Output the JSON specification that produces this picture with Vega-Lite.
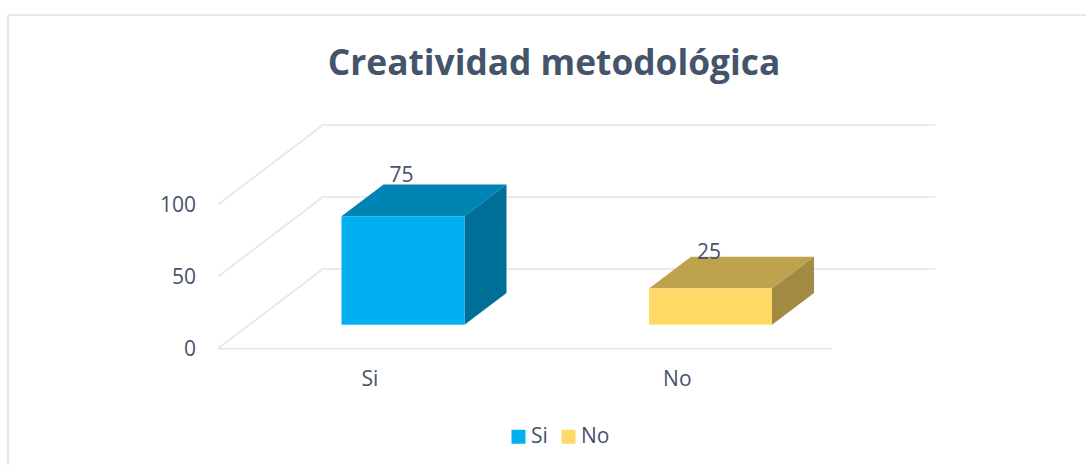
{
"$schema":"https://vega.github.io/schema/vega-lite/v6.json",
"width":1086,"height":465,"padding":0,"autosize":{"type":"none"},
"background":"white",
"title":{"text":"Creatividad metodológica","font":"Open Sans","fontSize":35.3,"fontWeight":"bold","color":"#44546A","anchor":"middle","dx":11,"dy":110,"baseline":"alphabetic","offset":0},
"config":{"view":{"stroke":null},"text":{"font":"Open Sans","fontSize":21,"color":"#44546A"}},
"datasets":{
"barras":[{"categoria":"Si","valor":75},{"categoria":"No","valor":25}],
"escala":[{"marca":0},{"marca":50},{"marca":100}]
},
"layer":[
{"mark":{"type":"rule","color":"#E3E7EE","strokeWidth":2},"data":{"values":[{}]},
 "encoding":{"x":{"datum":-0.2846,"type":"quantitative","scale":{"domain":[-0.3106,3.2211]},"axis":null},
 "y":{"datum":231.7,"type":"quantitative","scale":{"domain":[-80.76,242.15]},"axis":null},"y2":{"datum":-80.76}}},
{"mark":{"type":"rule","color":"#E3E7EE","strokeWidth":2},"data":{"values":[{}]},
 "encoding":{"x":{"datum":-0.2846,"type":"quantitative","scale":{"domain":[-0.3106,3.2211]},"axis":null},"x2":{"datum":3.2211},
 "y":{"datum":231.7,"type":"quantitative","scale":{"domain":[-80.76,242.15]},"axis":null}}},
{"mark":{"type":"line","color":"#E1E5EB","strokeWidth":1.6},"data":{"name":"escala"},
 "transform":[{"calculate":"[0.3984,0.7389,2.7323]","as":"px"},{"calculate":"[datum.marca,datum.marca+55.35,datum.marca+55.35]","as":"py"},{"flatten":["px","py"]}],
 "encoding":{"x":{"field":"px","type":"quantitative","scale":{"domain":[-0.3106,3.2211]},"axis":null},
 "y":{"field":"py","type":"quantitative","scale":{"domain":[-80.76,242.15]},"axis":null},
 "detail":{"field":"marca"}}},
{"mark":{"type":"rule","color":"#E1E5EB","strokeWidth":1.6},"data":{"values":[{}]},
 "encoding":{"x":{"datum":0.3984,"type":"quantitative","scale":{"domain":[-0.3106,3.2211]},"axis":null},"x2":{"datum":2.396},
 "y":{"datum":0,"type":"quantitative","scale":{"domain":[-80.76,242.15]},"axis":null}}},
{"mark":{"type":"text","align":"right","baseline":"middle"},"data":{"name":"escala"},
 "transform":[{"calculate":"0.3268","as":"px"},{"calculate":"datum.marca-0.7","as":"py"}],
 "encoding":{"x":{"field":"px","type":"quantitative","scale":{"domain":[-0.3106,3.2211]},"axis":null},
 "y":{"field":"py","type":"quantitative","scale":{"domain":[-80.76,242.15]},"axis":null},
 "text":{"field":"marca","type":"quantitative"}}},
{"data":{"name":"barras"},
 "transform":[
  {"calculate":"datum.categoria==='Si'?1:2","as":"pos"},
  {"calculate":"datum.pos-0.2","as":"izq"},{"calculate":"datum.pos+0.2","as":"der"},
  {"calculate":"16.67","as":"base"},{"calculate":"16.67+datum.valor*1.005","as":"tope"}],
 "layer":[
  {"mark":{"type":"area","interpolate":"linear"},
   "transform":[{"calculate":"[datum.izq,datum.izq+0.1366,datum.der,datum.der+0.1366]","as":"px"},
    {"calculate":"[datum.tope,datum.tope+22,datum.tope+22,datum.tope+22]","as":"py"},
    {"calculate":"[datum.tope,datum.tope,datum.tope,datum.tope+22]","as":"py2"},
    {"flatten":["px","py","py2"]}],
   "encoding":{"x":{"field":"px","type":"quantitative","scale":{"domain":[-0.3106,3.2211]},"axis":null},
    "y":{"field":"py","type":"quantitative","stack":null,"scale":{"domain":[-80.76,242.15]},"axis":null},"y2":{"field":"py2"},
    "color":{"field":"categoria","type":"nominal","legend":null,"scale":{"domain":["Si","No"],"range":["#0084B4","#BFA34C"]}},
    "detail":{"field":"categoria"}}},
  {"mark":{"type":"area","interpolate":"linear"},
   "transform":[{"calculate":"[datum.der,datum.der+0.1366]","as":"px"},
    {"calculate":"[datum.tope,datum.tope+22]","as":"py"},
    {"calculate":"[datum.base,datum.base+22]","as":"py2"},
    {"flatten":["px","py","py2"]}],
   "encoding":{"x":{"field":"px","type":"quantitative","scale":{"domain":[-0.3106,3.2211]},"axis":null},
    "y":{"field":"py","type":"quantitative","stack":null,"scale":{"domain":[-80.76,242.15]},"axis":null},"y2":{"field":"py2"},
    "color":{"field":"categoria","type":"nominal","legend":null,"scale":{"domain":["Si","No"],"range":["#006F97","#A38A42"]}},
    "detail":{"field":"categoria"}}},
  {"mark":{"type":"rect"},
   "encoding":{"x":{"field":"izq","type":"quantitative","scale":{"domain":[-0.3106,3.2211]},"axis":null},"x2":{"field":"der"},
    "y":{"field":"tope","type":"quantitative","scale":{"domain":[-80.76,242.15]},"axis":null},"y2":{"field":"base"},
    "color":{"field":"categoria","type":"nominal","scale":{"domain":["Si","No"],"range":["#00B0F0","#FFD966"]},
     "legend":{"title":null,"orient":"none","legendX":508,"legendY":426,"direction":"horizontal","symbolType":"square","symbolSize":196,"symbolStrokeWidth":0,"symbolOpacity":1,"labelFont":"Open Sans","labelFontSize":21,"labelColor":"#44546A","labelOffset":2,"columnPadding":10}}}},
  {"mark":{"type":"text","baseline":"middle"},
   "transform":[{"calculate":"datum.pos-0.005","as":"px"},{"calculate":"datum.valor*1.07+40","as":"py"}],
   "encoding":{"x":{"field":"px","type":"quantitative","scale":{"domain":[-0.3106,3.2211]},"axis":null},
    "y":{"field":"py","type":"quantitative","scale":{"domain":[-80.76,242.15]},"axis":null},
    "text":{"field":"valor","type":"quantitative"}}},
  {"mark":{"type":"text","baseline":"middle"},
   "transform":[{"calculate":"datum.pos-0.108","as":"px"},{"calculate":"-21.7","as":"py"}],
   "encoding":{"x":{"field":"px","type":"quantitative","scale":{"domain":[-0.3106,3.2211]},"axis":null},
    "y":{"field":"py","type":"quantitative","scale":{"domain":[-80.76,242.15]},"axis":null},
    "text":{"field":"categoria","type":"nominal"}}}
 ],
 "resolve":{"scale":{"color":"independent"}}}
]}
